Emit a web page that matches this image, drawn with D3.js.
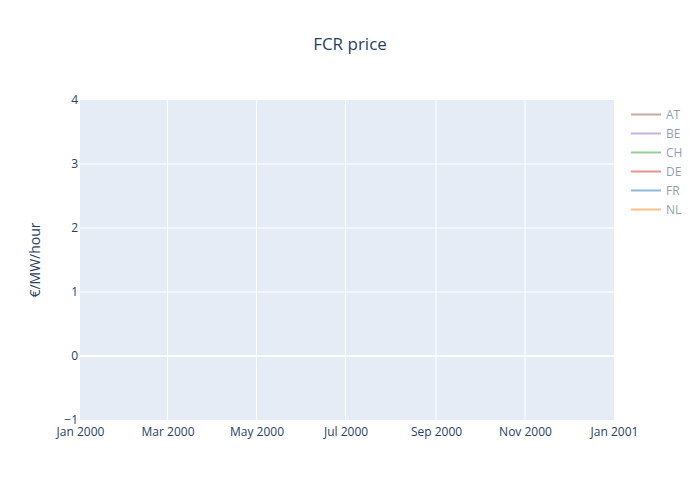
<!DOCTYPE html>
<html>
<head>
<meta charset="utf-8">
<script src="https://cdn.jsdelivr.net/npm/d3@7"></script>
<style>
  body { margin: 0; background: white; }
  text { font-family: "Open Sans", sans-serif; }
</style>
</head>
<body>
<script>
// Series (all hidden / legend only, so no points are drawn)
const countries = ['AT', 'BE', 'CH', 'DE', 'FR', 'NL'];
const countryColors = ['#8c564b', '#9467bd', '#2ca02c', '#d62728', '#1f77b4', '#ff7f0e'];
const seriesValues = [[], [], [], [], [], []];

const xDomain = ['2000-01-01', '2001-01-01'];
const xTicks = ['2000-01-01', '2000-03-01', '2000-05-01', '2000-07-01', '2000-09-01', '2000-11-01', '2001-01-01'];
const xTickLabels = ['Jan 2000', 'Mar 2000', 'May 2000', 'Jul 2000', 'Sep 2000', 'Nov 2000', 'Jan 2001'];
const yTicks = [-1, 0, 1, 2, 3, 4];

const W = 700, H = 500;
const margin = { top: 100, right: 86, bottom: 80, left: 80 };
const textColor = '#2a3f5f';

const svg = d3.select('body').append('svg')
    .attr('width', W)
    .attr('height', H);

svg.append('rect')
    .attr('width', W)
    .attr('height', H)
    .attr('fill', 'white');

const parse = d3.timeParse('%Y-%m-%d');

const x = d3.scaleTime()
    .domain(xDomain.map(parse))
    .range([margin.left, W - margin.right]);

const y = d3.scaleLinear()
    .domain([-1, 4])
    .range([H - margin.bottom, margin.top]);

// plot background
svg.append('rect')
    .attr('x', margin.left)
    .attr('y', margin.top)
    .attr('width', W - margin.left - margin.right)
    .attr('height', H - margin.top - margin.bottom)
    .attr('fill', '#e5ecf6');

// grid lines
svg.append('g')
    .selectAll('line')
    .data(xTicks.slice(1, -1).map(parse))
    .join('line')
    .attr('x1', d => x(d)).attr('x2', d => x(d))
    .attr('y1', margin.top).attr('y2', H - margin.bottom)
    .attr('stroke', 'white')
    .attr('stroke-width', 1);

svg.append('g')
    .selectAll('line')
    .data(yTicks.slice(1, -1))
    .join('line')
    .attr('x1', margin.left).attr('x2', W - margin.right)
    .attr('y1', d => y(d)).attr('y2', d => y(d))
    .attr('stroke', 'white')
    .attr('stroke-width', d => d === 0 ? 2 : 1);

// axes
const xAxis = svg.append('g')
    .attr('transform', `translate(0,${H - margin.bottom})`)
    .call(d3.axisBottom(x)
        .tickValues(xTicks.map(parse))
        .tickFormat((d, i) => xTickLabels[i])
        .tickSize(0)
        .tickPadding(7));
xAxis.select('.domain').remove();
xAxis.selectAll('text')
    .style('font-size', '12px')
    .style('font-family', '"Open Sans", sans-serif')
    .attr('fill', textColor);

const yAxis = svg.append('g')
    .attr('transform', `translate(${margin.left},0)`)
    .call(d3.axisLeft(y)
        .tickValues(yTicks)
        .tickFormat(d => d < 0 ? '\u2212' + Math.abs(d) : d)
        .tickSize(0)
        .tickPadding(2));
yAxis.select('.domain').remove();
yAxis.selectAll('text')
    .style('font-size', '12px')
    .style('font-family', '"Open Sans", sans-serif')
    .attr('fill', textColor);

// lines (no visible data)
const line = d3.line().x(d => x(d[0])).y(d => y(d[1]));
seriesValues.forEach((vals, i) => {
    svg.append('path')
        .datum(vals)
        .attr('fill', 'none')
        .attr('stroke', countryColors[i])
        .attr('stroke-width', 2)
        .attr('d', line);
});

// title
svg.append('text')
    .attr('x', W / 2)
    .attr('y', 50)
    .attr('text-anchor', 'middle')
    .style('font-size', '17px')
    .attr('fill', textColor)
    .text('FCR price');

// y axis title
svg.append('text')
    .attr('transform', `translate(40,${(margin.top + H - margin.bottom) / 2}) rotate(-90)`)
    .attr('text-anchor', 'middle')
    .style('font-size', '14px')
    .attr('fill', textColor)
    .text('€/MW/hour');

// legend (traces shown as legend-only, faded)
const legend = svg.append('g')
    .attr('transform', 'translate(631,114.5)')
    .selectAll('g')
    .data(countries)
    .join('g')
    .attr('transform', (d, i) => `translate(0,${i * 19})`)
    .attr('opacity', 0.5);

legend.append('line')
    .attr('x1', 0).attr('x2', 30)
    .attr('y1', 0).attr('y2', 0)
    .attr('stroke', (d, i) => countryColors[i])
    .attr('stroke-width', 2);

legend.append('text')
    .attr('x', 35)
    .attr('y', 0)
    .attr('dy', '0.35em')
    .style('font-size', '12px')
    .attr('fill', textColor)
    .text(d => d);
</script>
</body>
</html>
